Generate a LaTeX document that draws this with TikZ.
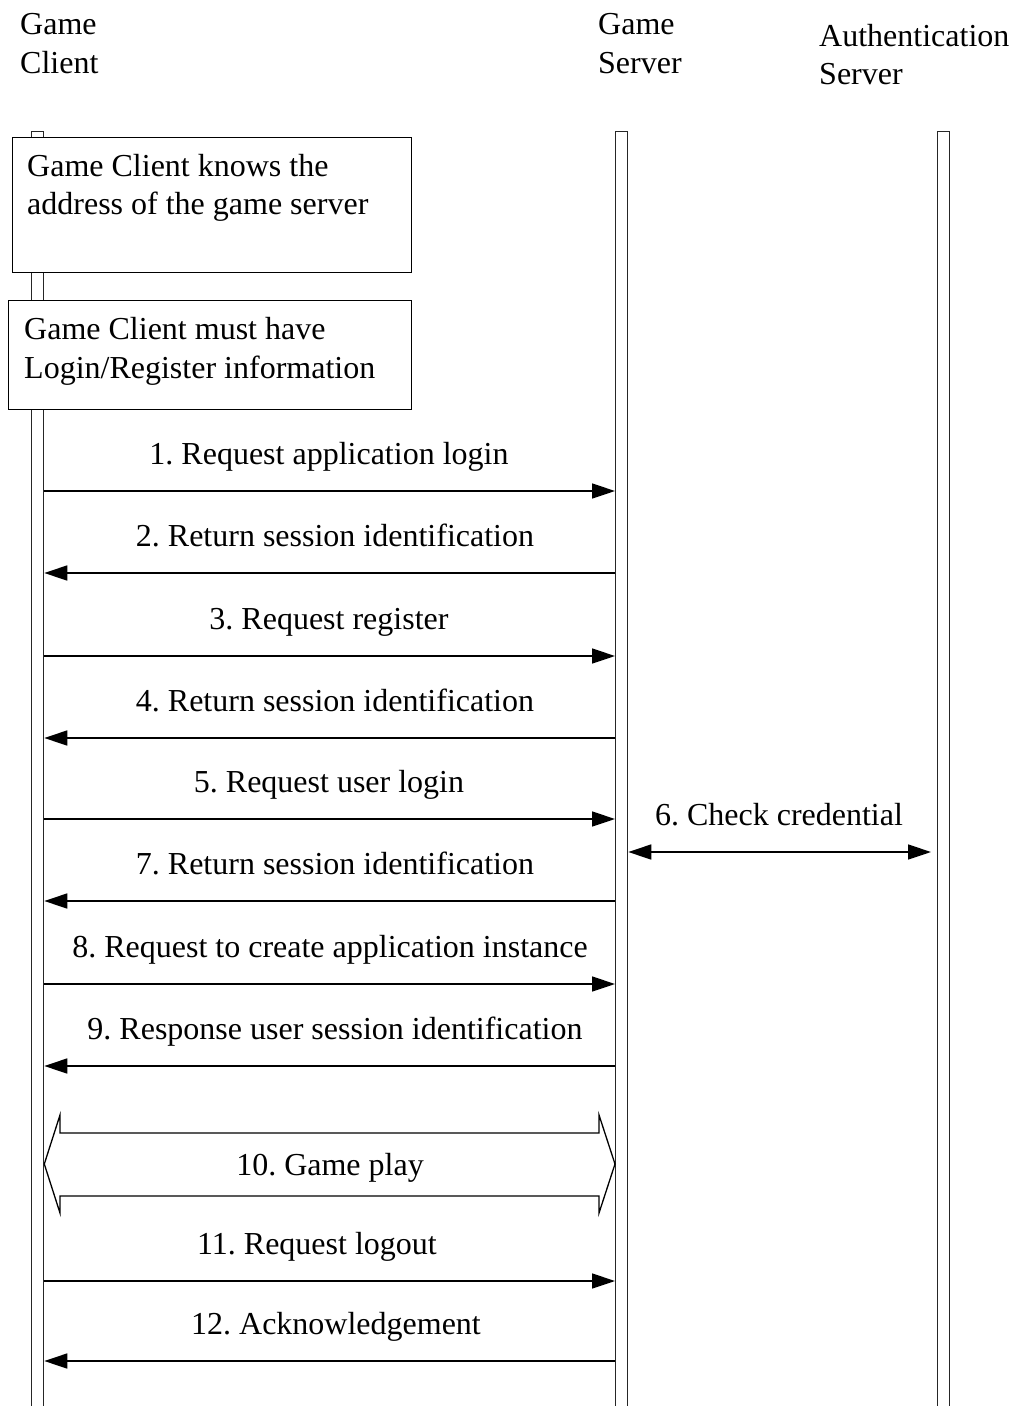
\documentclass[tikz,border=0pt]{standalone}
\usepackage{fontspec}
\setmainfont{Liberation Serif}
\usetikzlibrary{arrows.meta}
\frenchspacing
\begin{document}
\begin{tikzpicture}[x=1pt,y=-1pt,
  lifeline/.style={draw=black!85, line width=1.3pt, fill=white, inner sep=0pt,
    minimum width=12pt, minimum height=1300pt, anchor=north west},
  note/.style={draw, line width=1pt, fill=white, inner sep=0pt, anchor=north west},
  msg/.style={line width=1.6pt, -{Triangle[length=23pt,width=15pt]}},
  lbl/.style={font=\fontsize{32}{39}\selectfont, anchor=base, inner sep=0pt, yshift=-1.5pt},
  txt/.style={font=\fontsize{32}{39}\selectfont, align=left, anchor=base west, inner sep=0pt, yshift=-1.5pt}]
\useasboundingbox (0,0) rectangle (1015,1406);

% actor headings
\node[txt] (hc1) at (20,33) {Game};
\node[txt] (hc2) at (20,72) {Client};
\node[txt] (hs1) at (598,33) {Game};
\node[txt] (hs2) at (598,72) {Server};
\node[txt] (ha1) at (819,45) {Authentication};
\node[txt] (ha2) at (819,83) {Server};

% lifelines
\node[lifeline] (cl) at (31,131) {};
\node[lifeline] (sv) at (615,131) {};
\node[lifeline] (au) at (937,131) {};

% preconditions on the client
\node[note, minimum width=399pt, minimum height=135pt] (pre1) at (12,137) {};
\node[txt] (pre1a) at (27,175) {Game Client knows the};
\node[txt] (pre1b) at (27,213) {address of the game server};
\node[note, minimum width=403pt, minimum height=109pt] (pre2) at (8,300) {};
\node[txt] (pre2a) at (24,338) {Game Client must have};
\node[txt] (pre2b) at (24,377) {Login/Register information};

% messages
\draw[msg] (cl.east |- 0,491) -- (sv.west |- 0,491);
\node[lbl] (m1) at (329,463) {1. Request application login};
\draw[msg] (sv.west |- 0,573) -- (cl.east |- 0,573);
\node[lbl] (m2) at (335,545) {2. Return session identification};
\draw[msg] (cl.east |- 0,656) -- (sv.west |- 0,656);
\node[lbl] (m3) at (329,628) {3. Request register};
\draw[msg] (sv.west |- 0,738) -- (cl.east |- 0,738);
\node[lbl] (m4) at (335,710) {4. Return session identification};
\draw[msg] (cl.east |- 0,819) -- (sv.west |- 0,819);
\node[lbl] (m5) at (329,791) {5. Request user login};
\coordinate (authin) at ([xshift=-6pt]au.west |- 0,852);
\draw[msg, {Triangle[length=23pt,width=15pt]}-{Triangle[length=23pt,width=15pt]}]
  (sv.east |- 0,852) -- (authin);
\node[lbl] (m6) at (779,824) {6. Check credential};
\draw[msg] (sv.west |- 0,901) -- (cl.east |- 0,901);
\node[lbl] (m7) at (335,873) {7. Return session identification};
\draw[msg] (cl.east |- 0,984) -- (sv.west |- 0,984);
\node[lbl] (m8) at (330,956) {8. Request to create application instance};
\draw[msg] (sv.west |- 0,1066) -- (cl.east |- 0,1066);
\node[lbl] (m9) at (335,1038) {9. Response user session identification};

% game play: hollow double-headed block arrow
\draw[line width=1.3pt, line join=miter]
  (cl.east |- 0,1164) -- (60,1115) -- (60,1133) -- (599,1133) -- (599,1115)
  -- (sv.west |- 0,1164) -- (599,1213) -- (599,1196) -- (60,1196) -- (60,1213) -- cycle;
\node[lbl] (m10) at (330,1174) {10. Game play};

\draw[msg] (cl.east |- 0,1281) -- (sv.west |- 0,1281);
\node[lbl] (m11) at (317,1253) {11. Request logout};
\draw[msg] (sv.west |- 0,1361) -- (cl.east |- 0,1361);
\node[lbl] (m12) at (336,1333) {12. Acknowledgement};
\end{tikzpicture}
\end{document}
